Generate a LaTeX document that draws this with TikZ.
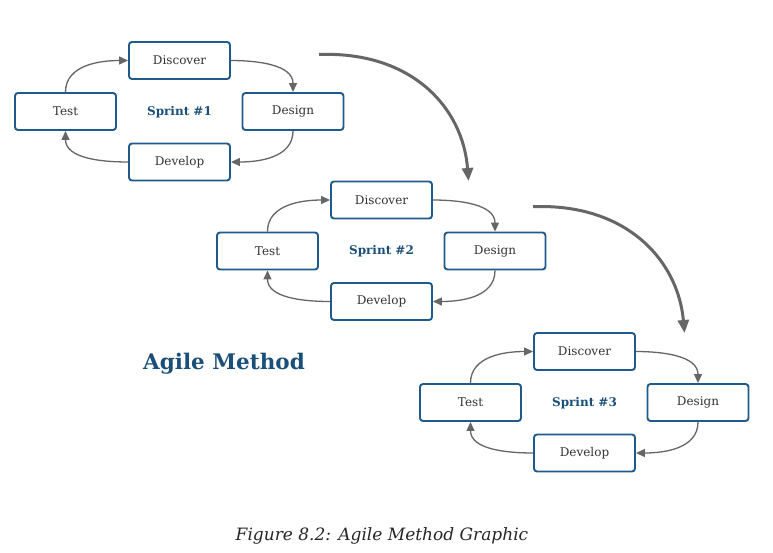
\documentclass[tikz,border=0pt]{standalone}
\usepackage{fontspec}
\setmainfont{DejaVu Serif}
\usetikzlibrary{arrows.meta}
\definecolor{boxblue}{HTML}{1F5A8A}
\definecolor{titleblue}{HTML}{1A4F7A}
\definecolor{arrowgray}{HTML}{666666}
\definecolor{txtgray}{HTML}{333333}
\tikzset{
  stagebox/.style={draw=boxblue, line width=1.9pt, rounded corners=3pt, fill=white,
    minimum width=101pt, minimum height=37pt, inner sep=0pt,
    font=\fontsize{12}{14}\selectfont, text=txtgray},
  sprintlabel/.style={font=\bfseries\fontsize{12}{14}\selectfont, text=titleblue},
  cyclearrow/.style={draw=arrowgray, line width=1.3pt,
    -{Triangle[length=9pt,width=8pt]}, arrowgray},
  bigarrow/.style={draw=arrowgray, line width=3pt,
    -{Triangle[length=13pt,width=11pt]}, arrowgray}
}
\begin{document}
\begin{tikzpicture}[x=1pt,y=-1pt]
\useasboundingbox[fill=white] (0,0) rectangle (773,552);
\foreach \i/\dx/\dy in {1/0/0, 2/202/139.5, 3/405/291} {
  \begin{scope}[shift={(\dx,\dy)}]
    \node[stagebox] (disc\i) at (179.5,60.5) {Discover};
    \node[stagebox] (test\i) at (65.5,111.5) {Test};
    \node[stagebox] (desg\i) at (293,111.5) {Design};
    \node[stagebox] (devl\i) at (179.5,162) {Develop};
    \node[sprintlabel] (spr\i) at (179.5,112) {Sprint \#\i};
  \end{scope}
  \draw[cyclearrow] (test\i.north) to[out=90,in=180] (disc\i.west);
  \draw[cyclearrow] (disc\i.east) to[out=0,in=90] (desg\i.north);
  \draw[cyclearrow] (desg\i.south) to[out=-90,in=0] (devl\i.east);
  \draw[cyclearrow] (devl\i.west) to[out=180,in=-90] (test\i.south);
}
\coordinate (a1s) at (319,54.5);
\coordinate (a1e) at (468.5,181);
\coordinate (a2s) at (533,206.7);
\coordinate (a2e) at (684.5,333);
\draw[bigarrow] (a1s) .. controls (412,51) and (463,108) .. (a1e);
\draw[bigarrow] (a2s) .. controls (626,203) and (678,260) .. (a2e);
\node[font=\bfseries\fontsize{21.5}{24}\selectfont, text=titleblue] (title) at (224,364) {Agile Method};
\node[font=\itshape\fontsize{17}{20}\selectfont, text=black!85] (caption) at (382,536) {Figure 8.2: Agile Method Graphic};
\end{tikzpicture}
\end{document}
